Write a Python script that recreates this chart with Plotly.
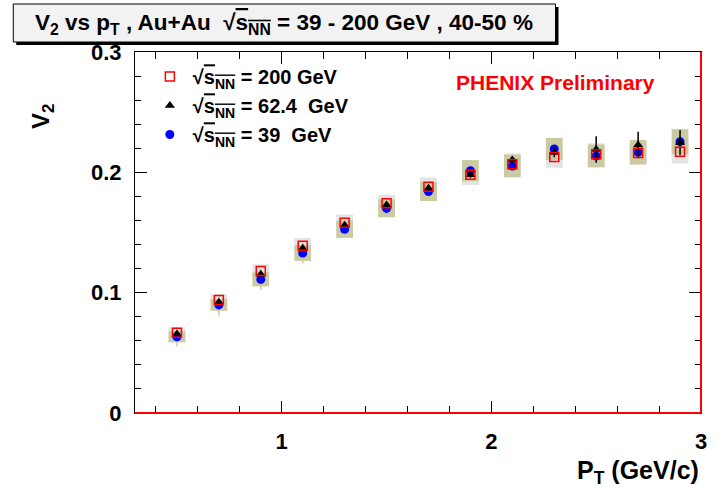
import plotly.graph_objects as go

# ---------------- data ----------------
pt = [0.5, 0.7, 0.9, 1.1, 1.3, 1.5, 1.7, 1.9, 2.1, 2.3, 2.5, 2.7, 2.9]

v2_200 = [0.0667, 0.0939, 0.118, 0.139, 0.158, 0.1743, 0.188, 0.198, 0.2067, 0.2128, 0.215, 0.2161, 0.2171]
v2_62 = [0.0657, 0.092, 0.1153, 0.137, 0.156, 0.1729, 0.1868, 0.198, 0.2103, 0.2165, 0.2189, 0.2228, 0.2247]
v2_39 = [0.0634, 0.0898, 0.111, 0.133, 0.1527, 0.170, 0.184, 0.2014, 0.2053, 0.2194, 0.2136, 0.2167, 0.2255]

sys_200 = [0.0046, 0.0047, 0.0056, 0.0064, 0.0070, 0.0072, 0.0077, 0.0085, 0.0090, 0.0090, 0.0092, 0.0095, 0.0098]
sys_39 = [0.0047, 0.0048, 0.0058, 0.0066, 0.0072, 0.0074, 0.0079, 0.0088, 0.0095, 0.0092, 0.0095, 0.0102, 0.0104]

stat_62 = [0.0006, 0.0007, 0.0008, 0.0010, 0.0012, 0.0015, 0.0020, 0.0025, 0.0030, 0.0040, 0.0110, 0.0110, 0.0105]
stat_39 = [0.0079, 0.0090, 0.0088, 0.0088, 0.0070, 0.0068, 0.0072, 0.0080, 0.0085, 0.0085, 0.0090, 0.0095, 0.0095]

x_range = [0.3, 3.0]
y_range = [0.0, 0.3]

# ---------------- style ----------------
FONT = "Liberation Sans, Arial, sans-serif"
KHAKI = "rgb(203,202,163)"
LGRAY = "rgb(228,228,228)"
W, H = 717, 490
L, R, T, B = 135, 10, 52, 77
PW, PH = W - L - R, H - T - B


def px(xp):
    return (xp - L) / PW


def py(yp):
    return (H - B - yp) / PH


SQRT = "\u221a<span style='text-decoration:overline'>s<sub>NN</sub></span>"

fig = go.Figure()

# systematic boxes
fig.add_trace(go.Bar(x=pt, y=[2 * s for s in sys_200], base=[v - s for v, s in zip(v2_200, sys_200)],
                     width=0.08, marker=dict(color=LGRAY, line=dict(width=0)), showlegend=False,
                     hoverinfo="skip"))
fig.add_trace(go.Bar(x=pt, y=[2 * s for s in sys_39], base=[v - s for v, s in zip(v2_39, sys_39)],
                     width=0.08, marker=dict(color=KHAKI, line=dict(width=0)), showlegend=False,
                     hoverinfo="skip"))

# data points (drawing order: circles, triangles, squares on top)
fig.add_trace(go.Scatter(x=pt, y=v2_39, mode="markers", name=SQRT + " = 39  GeV",
                         marker=dict(symbol="circle", size=9, color="rgb(0,0,255)"),
                         error_y=dict(type="data", array=stat_39, color=KHAKI, thickness=1.5, width=0),
                         legendgroup="c", legendrank=3))
fig.add_trace(go.Scatter(x=pt, y=v2_62, mode="markers", name=SQRT + " = 62.4  GeV",
                         marker=dict(symbol="triangle-up", size=9, color="black"),
                         error_y=dict(type="data", array=stat_62, color="black", thickness=1.5, width=0),
                         legendgroup="b", legendrank=2))
fig.add_trace(go.Scatter(x=pt, y=v2_200, mode="markers", name=SQRT + " = 200 GeV",
                         marker=dict(symbol="square-open", size=9, color="rgb(255,0,0)",
                                     line=dict(width=1.5, color="rgb(255,0,0)")),
                         legendgroup="a", legendrank=1))

tickfont = dict(family=FONT, size=22, color="black", weight="bold")
common = dict(showgrid=False, zeroline=False, showline=True, linecolor="black", linewidth=1,
              mirror="allticks", ticks="inside", ticklen=12, tickwidth=1, tickcolor="black",
              tickfont=tickfont, layer="above traces")

fig.update_layout(
    width=W, height=H,
    margin=dict(l=L, r=R, t=T, b=B, pad=0),
    paper_bgcolor="white", plot_bgcolor="white",
    barmode="overlay",
    showlegend=True,
    legend=dict(x=px(147), y=py(57), xanchor="left", yanchor="top",
                font=dict(family=FONT, size=20, color="black", weight="bold"),
                bgcolor="rgba(0,0,0,0)", borderwidth=0,
                traceorder="grouped", tracegroupgap=0, itemwidth=36),
    xaxis=dict(range=x_range, tickmode="linear", tick0=0, dtick=1, ticklabelstandoff=9,
               minor=dict(tick0=0, dtick=0.2, ticks="inside", ticklen=7, tickwidth=1,
                          tickcolor="black"),
               **common),
    yaxis=dict(range=y_range, tickmode="linear", tick0=0, dtick=0.1, ticklabelstandoff=8,
               minor=dict(tick0=0, dtick=0.02, ticks="inside", ticklen=6, tickwidth=1,
                          tickcolor="black"),
               **common),
)

# red bottom and right frame lines
fig.add_shape(type="line", xref="paper", yref="paper", x0=0, x1=1, y0=0, y1=0,
              line=dict(color="red", width=2), layer="above")
fig.add_shape(type="line", xref="paper", yref="paper", x0=1, x1=1, y0=0, y1=1,
              line=dict(color="red", width=2), layer="above")

# title box with shadow
fig.add_shape(type="rect", xref="paper", yref="paper", x0=px(15), x1=px(563), y0=py(45), y1=py(7),
              fillcolor="black", line=dict(width=0), layer="above")
fig.add_shape(type="rect", xref="paper", yref="paper", x0=px(12), x1=px(560), y0=py(42), y1=py(4),
              fillcolor="rgb(242,242,242)", line=dict(color="black", width=1), layer="above")
fig.add_annotation(xref="paper", yref="paper", x=px(286), y=py(24), xanchor="center", yanchor="middle",
                   showarrow=False,
                   text="V<sub>2</sub> vs p<sub>T</sub> , Au+Au  " + SQRT + " = 39 - 200 GeV , 40-50 %",
                   font=dict(family=FONT, size=22.5, color="black", weight="bold"))

# axis titles
fig.add_annotation(xref="paper", yref="paper", x=px(41), y=py(116), xanchor="center", yanchor="middle",
                   showarrow=False, textangle=-90, text="V<sub>2</sub>",
                   font=dict(family=FONT, size=24, color="black", weight="bold"))
fig.add_annotation(xref="paper", yref="paper", x=px(707), y=py(472), xanchor="right", yanchor="middle",
                   showarrow=False, text="P<sub>T</sub> (GeV/c)",
                   font=dict(family=FONT, size=25, color="black", weight="bold"))

# PHENIX Preliminary
fig.add_annotation(xref="paper", yref="paper", x=px(560), y=py(82), xanchor="center", yanchor="middle",
                   showarrow=False, text="PHENIX Preliminary",
                   font=dict(family=FONT, size=21, color="rgb(255,0,0)", weight="bold"))

fig.write_html("out.html")
